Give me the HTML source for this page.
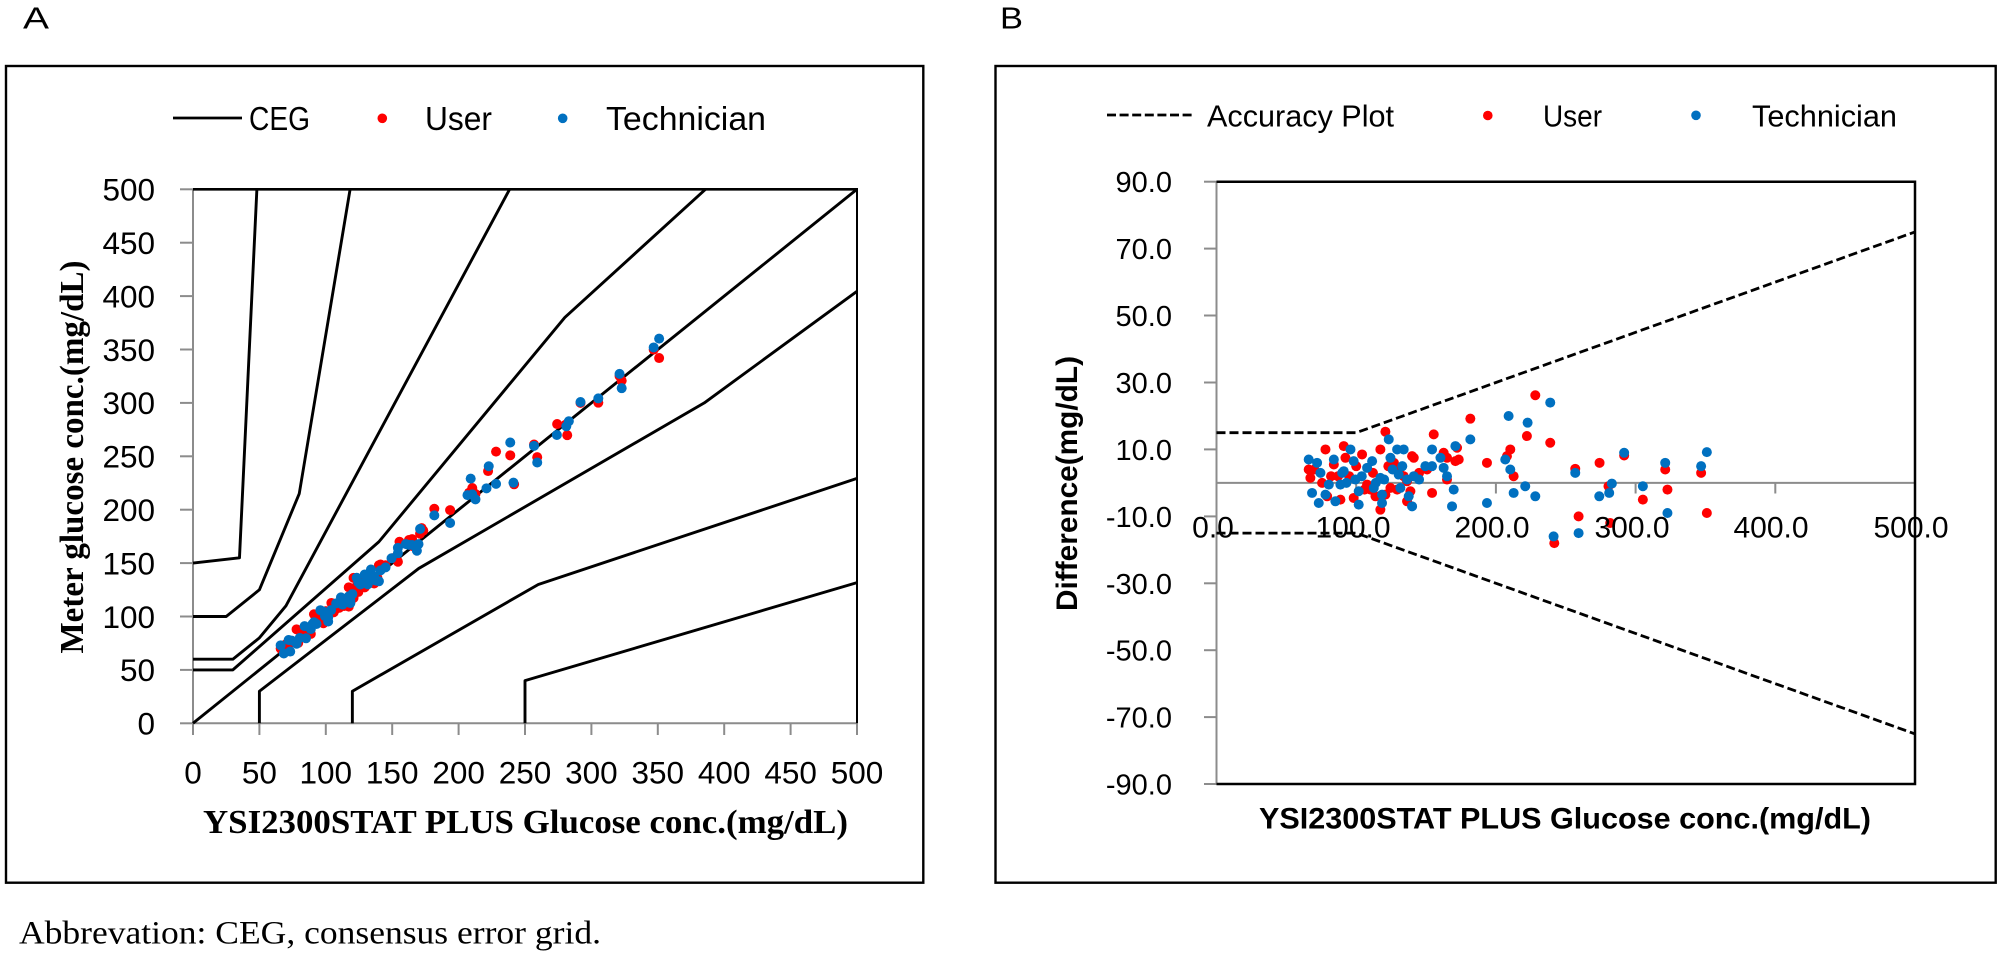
<!DOCTYPE html>
<html>
<head>
<meta charset="utf-8">
<style>
  html,body{margin:0;padding:0;background:#fff;}
  body{width:2004px;height:953px;overflow:hidden;}
  svg{display:block;}
  .s{font-family:"Liberation Sans",sans-serif;fill:#000;}
  .sb{font-family:"Liberation Sans",sans-serif;font-weight:bold;fill:#000;}
  .rb{font-family:"Liberation Serif",serif;font-weight:bold;fill:#000;}
  .r{font-family:"Liberation Serif",serif;fill:#000;}
  .ceg{fill:none;stroke:#000;stroke-width:2.9;stroke-linejoin:round;}
  .red{fill:#ff0000;}
  .blue{fill:#0070c0;}
</style>
</head>
<body>
<svg width="2004" height="953" viewBox="0 0 2004 953" xmlns="http://www.w3.org/2000/svg">
  <rect x="0" y="0" width="2004" height="953" fill="#fff"/>

  <!-- Panel labels -->
  <text class="s" x="23" y="28.5" font-size="31" textLength="26" lengthAdjust="spacingAndGlyphs">A</text>
  <text class="s" x="1000" y="28.5" font-size="31" textLength="23" lengthAdjust="spacingAndGlyphs">B</text>

  <!-- Outer boxes -->
  <rect x="6" y="66" width="917.3" height="816.7" fill="none" stroke="#000" stroke-width="2.4"/>
  <rect x="995.5" y="66" width="1000.2" height="816.7" fill="none" stroke="#000" stroke-width="2.4"/>

  <!-- ================= PANEL A ================= -->
  <line x1="173" y1="118" x2="242" y2="118" stroke="#000" stroke-width="2.8"/>
  <text class="s" x="249" y="130" font-size="33" textLength="61" lengthAdjust="spacingAndGlyphs">CEG</text>
  <circle cx="382.3" cy="118.3" r="4.8" class="red"/>
  <text class="s" x="425" y="130" font-size="33" textLength="67" lengthAdjust="spacingAndGlyphs">User</text>
  <circle cx="562.7" cy="118.3" r="4.8" class="blue"/>
  <text class="s" x="606" y="130" font-size="33" textLength="160" lengthAdjust="spacingAndGlyphs">Technician</text>

  <g stroke="#8c8c8c" stroke-width="2">
    <line x1="193" y1="189.3" x2="193" y2="723.3"/>
    <line x1="193" y1="723.3" x2="857" y2="723.3"/>
    <line x1="180" y1="723.3" x2="193" y2="723.3"/>
    <line x1="180" y1="669.9" x2="193" y2="669.9"/>
    <line x1="180" y1="616.5" x2="193" y2="616.5"/>
    <line x1="180" y1="563.1" x2="193" y2="563.1"/>
    <line x1="180" y1="509.7" x2="193" y2="509.7"/>
    <line x1="180" y1="456.3" x2="193" y2="456.3"/>
    <line x1="180" y1="402.9" x2="193" y2="402.9"/>
    <line x1="180" y1="349.5" x2="193" y2="349.5"/>
    <line x1="180" y1="296.1" x2="193" y2="296.1"/>
    <line x1="180" y1="242.7" x2="193" y2="242.7"/>
    <line x1="180" y1="189.3" x2="193" y2="189.3"/>
    <line x1="193" y1="723.3" x2="193" y2="735"/>
    <line x1="259.4" y1="723.3" x2="259.4" y2="735"/>
    <line x1="325.8" y1="723.3" x2="325.8" y2="735"/>
    <line x1="392.2" y1="723.3" x2="392.2" y2="735"/>
    <line x1="458.6" y1="723.3" x2="458.6" y2="735"/>
    <line x1="525" y1="723.3" x2="525" y2="735"/>
    <line x1="591.4" y1="723.3" x2="591.4" y2="735"/>
    <line x1="657.8" y1="723.3" x2="657.8" y2="735"/>
    <line x1="724.2" y1="723.3" x2="724.2" y2="735"/>
    <line x1="790.6" y1="723.3" x2="790.6" y2="735"/>
    <line x1="857" y1="723.3" x2="857" y2="735"/>
  </g>
  <line x1="193" y1="189.3" x2="858" y2="189.3" stroke="#000" stroke-width="2.6"/>
  <line x1="857" y1="189.3" x2="857" y2="723.3" stroke="#000" stroke-width="2"/>

  <g class="s" font-size="31.5" text-anchor="end">
    <text x="155" y="734.6">0</text>
    <text x="155" y="681.2">50</text>
    <text x="155" y="627.8">100</text>
    <text x="155" y="574.4">150</text>
    <text x="155" y="521">200</text>
    <text x="155" y="467.6">250</text>
    <text x="155" y="414.2">300</text>
    <text x="155" y="360.8">350</text>
    <text x="155" y="307.4">400</text>
    <text x="155" y="254">450</text>
    <text x="155" y="200.6">500</text>
  </g>
  <g class="s" font-size="31.5" text-anchor="middle">
    <text x="193" y="783.3">0</text>
    <text x="259.4" y="783.3">50</text>
    <text x="325.8" y="783.3">100</text>
    <text x="392.2" y="783.3">150</text>
    <text x="458.6" y="783.3">200</text>
    <text x="525" y="783.3">250</text>
    <text x="591.4" y="783.3">300</text>
    <text x="657.8" y="783.3">350</text>
    <text x="724.2" y="783.3">400</text>
    <text x="790.6" y="783.3">450</text>
    <text x="857" y="783.3">500</text>
  </g>

  <text class="rb" x="203" y="833" font-size="34" textLength="645" lengthAdjust="spacingAndGlyphs">YSI2300STAT PLUS Glucose conc.(mg/dL)</text>
  <text class="rb" transform="translate(83,457) rotate(-90)" x="0" y="0" font-size="34" text-anchor="middle" textLength="393" lengthAdjust="spacingAndGlyphs">Meter glucose conc.(mg/dL)</text>

  <g transform="matrix(1.328 0 0 -1.068 193 723.3)">
    <polyline class="ceg" vector-effect="non-scaling-stroke" points="0,0 500,500"/>
    <polyline class="ceg" vector-effect="non-scaling-stroke" points="0,50 30,50 140,170 280,380 385.9,500"/>
    <polyline class="ceg" vector-effect="non-scaling-stroke" points="50,0 50,30 170,145 385,300 500,404.5"/>
    <polyline class="ceg" vector-effect="non-scaling-stroke" points="0,60 30,60 50,80 70,110 238.4,500"/>
    <polyline class="ceg" vector-effect="non-scaling-stroke" points="120,0 120,30 260,130 500,229.3"/>
    <polyline class="ceg" vector-effect="non-scaling-stroke" points="0,100 25,100 50,125 80,215 118.3,500"/>
    <polyline class="ceg" vector-effect="non-scaling-stroke" points="250,0 250,40 500,131.7"/>
    <polyline class="ceg" vector-effect="non-scaling-stroke" points="0,150 35,155 48.1,500"/>
  </g>

  <g transform="matrix(1.328 0 0 -1.068 193 723.3)" class="red">
    <ellipse rx="3.77" ry="4.68" cx="66" cy="70"/>
    <ellipse rx="3.77" ry="4.68" cx="67.2" cy="68.7"/>
    <ellipse rx="3.77" ry="4.68" cx="78" cy="88"/>
    <ellipse rx="3.77" ry="4.68" cx="75.6" cy="75.6"/>
    <ellipse rx="3.77" ry="4.68" cx="84" cy="89.5"/>
    <ellipse rx="3.77" ry="4.68" cx="91.1" cy="102.1"/>
    <ellipse rx="3.77" ry="4.68" cx="92.3" cy="99.8"/>
    <ellipse rx="3.77" ry="4.68" cx="88.7" cy="83.7"/>
    <ellipse rx="3.77" ry="4.68" cx="98.2" cy="93.7"/>
    <ellipse rx="3.77" ry="4.68" cx="104.2" cy="112.7"/>
    <ellipse rx="3.77" ry="4.68" cx="107.8" cy="107.3"/>
    <ellipse rx="3.77" ry="4.68" cx="117.3" cy="127.3"/>
    <ellipse rx="3.77" ry="4.68" cx="120.9" cy="136.2"/>
    <ellipse rx="3.77" ry="4.68" cx="120.9" cy="117.4"/>
    <ellipse rx="3.77" ry="4.68" cx="117.3" cy="109.3"/>
    <ellipse rx="3.77" ry="4.68" cx="124.5" cy="123"/>
    <ellipse rx="3.77" ry="4.68" cx="131.6" cy="136.1"/>
    <ellipse rx="3.77" ry="4.68" cx="136.4" cy="136.9"/>
    <ellipse rx="3.77" ry="4.68" cx="141.2" cy="148.7"/>
    <ellipse rx="3.77" ry="4.68" cx="138.8" cy="136.3"/>
    <ellipse rx="3.77" ry="4.68" cx="136.4" cy="130.9"/>
    <ellipse rx="3.77" ry="4.68" cx="155.5" cy="170"/>
    <ellipse rx="3.77" ry="4.68" cx="154.3" cy="151.3"/>
    <ellipse rx="3.77" ry="4.68" cx="150.7" cy="154.7"/>
    <ellipse rx="3.77" ry="4.68" cx="165" cy="172.5"/>
    <ellipse rx="3.77" ry="4.68" cx="172.2" cy="182.7"/>
    <ellipse rx="3.77" ry="4.68" cx="171" cy="177.5"/>
    <ellipse rx="3.77" ry="4.68" cx="79.2" cy="75.2"/>
    <ellipse rx="3.77" ry="4.68" cx="113.8" cy="109.8"/>
    <ellipse rx="3.77" ry="4.68" cx="129.3" cy="127.3"/>
    <ellipse rx="3.77" ry="4.68" cx="134" cy="136"/>
    <ellipse rx="3.77" ry="4.68" cx="140" cy="148"/>
    <ellipse rx="3.77" ry="4.68" cx="162.6" cy="171.6"/>
    <ellipse rx="3.77" ry="4.68" cx="165" cy="166"/>
    <ellipse rx="3.77" ry="4.68" cx="173.4" cy="180.4"/>
    <ellipse rx="3.77" ry="4.68" cx="110.2" cy="108.2"/>
    <ellipse rx="3.77" ry="4.68" cx="95" cy="97"/>
    <ellipse rx="3.77" ry="4.68" cx="100" cy="105"/>
    <ellipse rx="3.77" ry="4.68" cx="87" cy="89"/>
    <ellipse rx="3.77" ry="4.68" cx="112" cy="115"/>
    <ellipse rx="3.77" ry="4.68" cx="127" cy="133"/>
    <ellipse rx="3.77" ry="4.68" cx="145" cy="148"/>
    <ellipse rx="3.77" ry="4.68" cx="70" cy="74"/>
    <ellipse rx="3.77" ry="4.68" cx="82" cy="84"/>
    <ellipse rx="3.77" ry="4.68" cx="106" cy="104"/>
    <ellipse rx="3.77" ry="4.68" cx="123" cy="128"/>
    <ellipse rx="3.77" ry="4.68" cx="181.7" cy="200.9"/>
    <ellipse rx="3.77" ry="4.68" cx="193.6" cy="199.6"/>
    <ellipse rx="3.77" ry="4.68" cx="207.9" cy="215.9"/>
    <ellipse rx="3.77" ry="4.68" cx="210.3" cy="220.3"/>
    <ellipse rx="3.77" ry="4.68" cx="212.7" cy="214.7"/>
    <ellipse rx="3.77" ry="4.68" cx="222.2" cy="236.2"/>
    <ellipse rx="3.77" ry="4.68" cx="228.2" cy="254.4"/>
    <ellipse rx="3.77" ry="4.68" cx="238.9" cy="250.9"/>
    <ellipse rx="3.77" ry="4.68" cx="256.8" cy="261"/>
    <ellipse rx="3.77" ry="4.68" cx="259.2" cy="249.2"/>
    <ellipse rx="3.77" ry="4.68" cx="241.8" cy="223.8"/>
    <ellipse rx="3.77" ry="4.68" cx="274.2" cy="280.2"/>
    <ellipse rx="3.77" ry="4.68" cx="291.8" cy="300"/>
    <ellipse rx="3.77" ry="4.68" cx="280.6" cy="279.6"/>
    <ellipse rx="3.77" ry="4.68" cx="305.2" cy="300.2"/>
    <ellipse rx="3.77" ry="4.68" cx="321.2" cy="325.2"/>
    <ellipse rx="3.77" ry="4.68" cx="322.8" cy="320.8"/>
    <ellipse rx="3.77" ry="4.68" cx="346.9" cy="349.9"/>
    <ellipse rx="3.77" ry="4.68" cx="351" cy="342"/>
    <ellipse rx="3.77" ry="4.68" cx="281.8" cy="269.8"/>
  </g>
  <g transform="matrix(1.328 0 0 -1.068 193 723.3)" class="blue">
    <ellipse rx="3.77" ry="4.68" cx="66" cy="73"/>
    <ellipse rx="3.77" ry="4.68" cx="74.4" cy="77.4"/>
    <ellipse rx="3.77" ry="4.68" cx="68.4" cy="65.4"/>
    <ellipse rx="3.77" ry="4.68" cx="73.2" cy="67.2"/>
    <ellipse rx="3.77" ry="4.68" cx="78" cy="74.5"/>
    <ellipse rx="3.77" ry="4.68" cx="85.1" cy="79.6"/>
    <ellipse rx="3.77" ry="4.68" cx="84" cy="91"/>
    <ellipse rx="3.77" ry="4.68" cx="80.4" cy="79.9"/>
    <ellipse rx="3.77" ry="4.68" cx="88.7" cy="88.2"/>
    <ellipse rx="3.77" ry="4.68" cx="91.1" cy="94.6"/>
    <ellipse rx="3.77" ry="4.68" cx="95.9" cy="105.9"/>
    <ellipse rx="3.77" ry="4.68" cx="98.2" cy="104.7"/>
    <ellipse rx="3.77" ry="4.68" cx="99.4" cy="100.4"/>
    <ellipse rx="3.77" ry="4.68" cx="101.8" cy="95.3"/>
    <ellipse rx="3.77" ry="4.68" cx="101.8" cy="99.3"/>
    <ellipse rx="3.77" ry="4.68" cx="107.8" cy="112.3"/>
    <ellipse rx="3.77" ry="4.68" cx="111.4" cy="117.9"/>
    <ellipse rx="3.77" ry="4.68" cx="112.6" cy="111.1"/>
    <ellipse rx="3.77" ry="4.68" cx="117.3" cy="118.8"/>
    <ellipse rx="3.77" ry="4.68" cx="118.5" cy="115"/>
    <ellipse rx="3.77" ry="4.68" cx="118.5" cy="112.5"/>
    <ellipse rx="3.77" ry="4.68" cx="123.3" cy="136.3"/>
    <ellipse rx="3.77" ry="4.68" cx="124.5" cy="132"/>
    <ellipse rx="3.77" ry="4.68" cx="129.3" cy="139.3"/>
    <ellipse rx="3.77" ry="4.68" cx="134" cy="144"/>
    <ellipse rx="3.77" ry="4.68" cx="130.4" cy="132.9"/>
    <ellipse rx="3.77" ry="4.68" cx="131.6" cy="130.1"/>
    <ellipse rx="3.77" ry="4.68" cx="136.4" cy="137.4"/>
    <ellipse rx="3.77" ry="4.68" cx="141.2" cy="143.2"/>
    <ellipse rx="3.77" ry="4.68" cx="137.6" cy="133.6"/>
    <ellipse rx="3.77" ry="4.68" cx="140" cy="133"/>
    <ellipse rx="3.77" ry="4.68" cx="149.5" cy="154.5"/>
    <ellipse rx="3.77" ry="4.68" cx="154.3" cy="164.3"/>
    <ellipse rx="3.77" ry="4.68" cx="154.3" cy="159.3"/>
    <ellipse rx="3.77" ry="4.68" cx="160.3" cy="167.8"/>
    <ellipse rx="3.77" ry="4.68" cx="162.6" cy="167.1"/>
    <ellipse rx="3.77" ry="4.68" cx="165" cy="167"/>
    <ellipse rx="3.77" ry="4.68" cx="169.8" cy="167.8"/>
    <ellipse rx="3.77" ry="4.68" cx="171" cy="182"/>
    <ellipse rx="3.77" ry="4.68" cx="168.6" cy="161.6"/>
    <ellipse rx="3.77" ry="4.68" cx="93" cy="93"/>
    <ellipse rx="3.77" ry="4.68" cx="104" cy="106"/>
    <ellipse rx="3.77" ry="4.68" cx="114" cy="114"/>
    <ellipse rx="3.77" ry="4.68" cx="126" cy="130"/>
    <ellipse rx="3.77" ry="4.68" cx="133" cy="138"/>
    <ellipse rx="3.77" ry="4.68" cx="145" cy="146"/>
    <ellipse rx="3.77" ry="4.68" cx="72" cy="78"/>
    <ellipse rx="3.77" ry="4.68" cx="90" cy="93"/>
    <ellipse rx="3.77" ry="4.68" cx="120" cy="121"/>
    <ellipse rx="3.77" ry="4.68" cx="181.7" cy="194.7"/>
    <ellipse rx="3.77" ry="4.68" cx="193.6" cy="187.6"/>
    <ellipse rx="3.77" ry="4.68" cx="206.7" cy="213.7"/>
    <ellipse rx="3.77" ry="4.68" cx="209.1" cy="229.1"/>
    <ellipse rx="3.77" ry="4.68" cx="210.3" cy="214.3"/>
    <ellipse rx="3.77" ry="4.68" cx="212.7" cy="209.7"/>
    <ellipse rx="3.77" ry="4.68" cx="221" cy="220"/>
    <ellipse rx="3.77" ry="4.68" cx="222.7" cy="240.7"/>
    <ellipse rx="3.77" ry="4.68" cx="228.2" cy="224.2"/>
    <ellipse rx="3.77" ry="4.68" cx="238.9" cy="262.9"/>
    <ellipse rx="3.77" ry="4.68" cx="241.3" cy="225.3"/>
    <ellipse rx="3.77" ry="4.68" cx="256.8" cy="259.8"/>
    <ellipse rx="3.77" ry="4.68" cx="259.2" cy="244.2"/>
    <ellipse rx="3.77" ry="4.68" cx="274" cy="270"/>
    <ellipse rx="3.77" ry="4.68" cx="281.1" cy="278.1"/>
    <ellipse rx="3.77" ry="4.68" cx="283" cy="282.8"/>
    <ellipse rx="3.77" ry="4.68" cx="291.8" cy="300.8"/>
    <ellipse rx="3.77" ry="4.68" cx="305.2" cy="304.2"/>
    <ellipse rx="3.77" ry="4.68" cx="321.2" cy="327.2"/>
    <ellipse rx="3.77" ry="4.68" cx="322.8" cy="313.8"/>
    <ellipse rx="3.77" ry="4.68" cx="346.9" cy="351.9"/>
    <ellipse rx="3.77" ry="4.68" cx="351" cy="360.2"/>
  </g>

  <!-- ================= PANEL B ================= -->
  <line x1="1107" y1="115" x2="1195" y2="115" stroke="#000" stroke-width="2.8" stroke-dasharray="9 3.6"/>
  <text class="s" x="1207" y="126.7" font-size="31" textLength="187" lengthAdjust="spacingAndGlyphs">Accuracy Plot</text>
  <circle cx="1487.8" cy="115.5" r="4.8" class="red"/>
  <text class="s" x="1543" y="126.7" font-size="31" textLength="59" lengthAdjust="spacingAndGlyphs">User</text>
  <circle cx="1696" cy="115.3" r="4.8" class="blue"/>
  <text class="s" x="1752" y="126.7" font-size="31" textLength="145" lengthAdjust="spacingAndGlyphs">Technician</text>

  <g stroke="#8c8c8c" stroke-width="2">
    <line x1="1216.5" y1="181.7" x2="1216.5" y2="784"/>
    <line x1="1216.5" y1="482.9" x2="1915" y2="482.9"/>
    <line x1="1204" y1="181.7" x2="1216.5" y2="181.7"/>
    <line x1="1204" y1="248.6" x2="1216.5" y2="248.6"/>
    <line x1="1204" y1="315.5" x2="1216.5" y2="315.5"/>
    <line x1="1204" y1="382.5" x2="1216.5" y2="382.5"/>
    <line x1="1204" y1="449.4" x2="1216.5" y2="449.4"/>
    <line x1="1204" y1="516.4" x2="1216.5" y2="516.4"/>
    <line x1="1204" y1="583.3" x2="1216.5" y2="583.3"/>
    <line x1="1204" y1="650.2" x2="1216.5" y2="650.2"/>
    <line x1="1204" y1="717.1" x2="1216.5" y2="717.1"/>
    <line x1="1204" y1="784" x2="1216.5" y2="784"/>
    <line x1="1216.5" y1="482.9" x2="1216.5" y2="493.5"/>
    <line x1="1356.2" y1="482.9" x2="1356.2" y2="493.5"/>
    <line x1="1495.9" y1="482.9" x2="1495.9" y2="493.5"/>
    <line x1="1635.6" y1="482.9" x2="1635.6" y2="493.5"/>
    <line x1="1775.3" y1="482.9" x2="1775.3" y2="493.5"/>
    <line x1="1915" y1="482.9" x2="1915" y2="493.5"/>
  </g>
  <polyline points="1216.5,181.7 1915,181.7 1915,784 1216.5,784" fill="none" stroke="#000" stroke-width="2.5"/>

  <g class="s" font-size="29" text-anchor="end">
    <text x="1172" y="192.2">90.0</text>
    <text x="1172" y="259.1">70.0</text>
    <text x="1172" y="326">50.0</text>
    <text x="1172" y="393">30.0</text>
    <text x="1172" y="459.9">10.0</text>
    <text x="1172" y="526.9">-10.0</text>
    <text x="1172" y="593.8">-30.0</text>
    <text x="1172" y="660.7">-50.0</text>
    <text x="1172" y="727.6">-70.0</text>
    <text x="1172" y="794.5">-90.0</text>
  </g>

  <polyline points="1216.5,432.7 1356.3,432.7 1915,231.9" fill="none" stroke="#000" stroke-width="2.8" stroke-dasharray="9 4"/>
  <polyline points="1216.5,533.1 1356.3,533.1 1915,733.9" fill="none" stroke="#000" stroke-width="2.8" stroke-dasharray="9 4"/>

  <g transform="matrix(1.397 0 0 -3.346 1216.5 482.9)" class="red">
    <ellipse rx="3.58" ry="1.494" cx="66" cy="4"/>
    <ellipse rx="3.58" ry="1.494" cx="67.2" cy="1.5"/>
    <ellipse rx="3.58" ry="1.494" cx="78" cy="10"/>
    <ellipse rx="3.58" ry="1.494" cx="75.6" cy="0"/>
    <ellipse rx="3.58" ry="1.494" cx="84" cy="5.5"/>
    <ellipse rx="3.58" ry="1.494" cx="91.1" cy="11"/>
    <ellipse rx="3.58" ry="1.494" cx="92.3" cy="7.5"/>
    <ellipse rx="3.58" ry="1.494" cx="88.7" cy="-5"/>
    <ellipse rx="3.58" ry="1.494" cx="98.2" cy="-4.5"/>
    <ellipse rx="3.58" ry="1.494" cx="104.2" cy="8.5"/>
    <ellipse rx="3.58" ry="1.494" cx="107.8" cy="-0.5"/>
    <ellipse rx="3.58" ry="1.494" cx="117.3" cy="10"/>
    <ellipse rx="3.58" ry="1.494" cx="120.9" cy="15.3"/>
    <ellipse rx="3.58" ry="1.494" cx="120.9" cy="-3.5"/>
    <ellipse rx="3.58" ry="1.494" cx="117.3" cy="-8"/>
    <ellipse rx="3.58" ry="1.494" cx="124.5" cy="-1.5"/>
    <ellipse rx="3.58" ry="1.494" cx="131.6" cy="4.5"/>
    <ellipse rx="3.58" ry="1.494" cx="136.4" cy="0.5"/>
    <ellipse rx="3.58" ry="1.494" cx="141.2" cy="7.5"/>
    <ellipse rx="3.58" ry="1.494" cx="138.8" cy="-2.5"/>
    <ellipse rx="3.58" ry="1.494" cx="136.4" cy="-5.5"/>
    <ellipse rx="3.58" ry="1.494" cx="155.5" cy="14.5"/>
    <ellipse rx="3.58" ry="1.494" cx="154.3" cy="-3"/>
    <ellipse rx="3.58" ry="1.494" cx="150.7" cy="4"/>
    <ellipse rx="3.58" ry="1.494" cx="165" cy="7.5"/>
    <ellipse rx="3.58" ry="1.494" cx="172.2" cy="10.5"/>
    <ellipse rx="3.58" ry="1.494" cx="171" cy="6.5"/>
    <ellipse rx="3.58" ry="1.494" cx="79.2" cy="-4"/>
    <ellipse rx="3.58" ry="1.494" cx="113.8" cy="-4"/>
    <ellipse rx="3.58" ry="1.494" cx="129.3" cy="-2"/>
    <ellipse rx="3.58" ry="1.494" cx="134" cy="2"/>
    <ellipse rx="3.58" ry="1.494" cx="140" cy="8"/>
    <ellipse rx="3.58" ry="1.494" cx="162.6" cy="9"/>
    <ellipse rx="3.58" ry="1.494" cx="165" cy="1"/>
    <ellipse rx="3.58" ry="1.494" cx="173.4" cy="7"/>
    <ellipse rx="3.58" ry="1.494" cx="110.2" cy="-2"/>
    <ellipse rx="3.58" ry="1.494" cx="95" cy="2"/>
    <ellipse rx="3.58" ry="1.494" cx="100" cy="5"/>
    <ellipse rx="3.58" ry="1.494" cx="87" cy="2"/>
    <ellipse rx="3.58" ry="1.494" cx="112" cy="3"/>
    <ellipse rx="3.58" ry="1.494" cx="127" cy="6"/>
    <ellipse rx="3.58" ry="1.494" cx="145" cy="3"/>
    <ellipse rx="3.58" ry="1.494" cx="70" cy="4"/>
    <ellipse rx="3.58" ry="1.494" cx="82" cy="2"/>
    <ellipse rx="3.58" ry="1.494" cx="106" cy="-2"/>
    <ellipse rx="3.58" ry="1.494" cx="123" cy="5"/>
    <ellipse rx="3.58" ry="1.494" cx="181.7" cy="19.2"/>
    <ellipse rx="3.58" ry="1.494" cx="193.6" cy="6"/>
    <ellipse rx="3.58" ry="1.494" cx="207.9" cy="8"/>
    <ellipse rx="3.58" ry="1.494" cx="210.3" cy="10"/>
    <ellipse rx="3.58" ry="1.494" cx="212.7" cy="2"/>
    <ellipse rx="3.58" ry="1.494" cx="222.2" cy="14"/>
    <ellipse rx="3.58" ry="1.494" cx="228.2" cy="26.2"/>
    <ellipse rx="3.58" ry="1.494" cx="238.9" cy="12"/>
    <ellipse rx="3.58" ry="1.494" cx="256.8" cy="4.2"/>
    <ellipse rx="3.58" ry="1.494" cx="259.2" cy="-10"/>
    <ellipse rx="3.58" ry="1.494" cx="241.8" cy="-18"/>
    <ellipse rx="3.58" ry="1.494" cx="274.2" cy="6"/>
    <ellipse rx="3.58" ry="1.494" cx="291.8" cy="8.2"/>
    <ellipse rx="3.58" ry="1.494" cx="280.6" cy="-1"/>
    <ellipse rx="3.58" ry="1.494" cx="305.2" cy="-5"/>
    <ellipse rx="3.58" ry="1.494" cx="321.2" cy="4"/>
    <ellipse rx="3.58" ry="1.494" cx="322.8" cy="-2"/>
    <ellipse rx="3.58" ry="1.494" cx="346.9" cy="3"/>
    <ellipse rx="3.58" ry="1.494" cx="351" cy="-9"/>
    <ellipse rx="3.58" ry="1.494" cx="281.8" cy="-12"/>
  </g>
  <g transform="matrix(1.397 0 0 -3.346 1216.5 482.9)" class="blue">
    <ellipse rx="3.58" ry="1.494" cx="66" cy="7"/>
    <ellipse rx="3.58" ry="1.494" cx="74.4" cy="3"/>
    <ellipse rx="3.58" ry="1.494" cx="68.4" cy="-3"/>
    <ellipse rx="3.58" ry="1.494" cx="73.2" cy="-6"/>
    <ellipse rx="3.58" ry="1.494" cx="78" cy="-3.5"/>
    <ellipse rx="3.58" ry="1.494" cx="85.1" cy="-5.5"/>
    <ellipse rx="3.58" ry="1.494" cx="84" cy="7"/>
    <ellipse rx="3.58" ry="1.494" cx="80.4" cy="-0.5"/>
    <ellipse rx="3.58" ry="1.494" cx="88.7" cy="-0.5"/>
    <ellipse rx="3.58" ry="1.494" cx="91.1" cy="3.5"/>
    <ellipse rx="3.58" ry="1.494" cx="95.9" cy="10"/>
    <ellipse rx="3.58" ry="1.494" cx="98.2" cy="6.5"/>
    <ellipse rx="3.58" ry="1.494" cx="99.4" cy="1"/>
    <ellipse rx="3.58" ry="1.494" cx="101.8" cy="-6.5"/>
    <ellipse rx="3.58" ry="1.494" cx="101.8" cy="-2.5"/>
    <ellipse rx="3.58" ry="1.494" cx="107.8" cy="4.5"/>
    <ellipse rx="3.58" ry="1.494" cx="111.4" cy="6.5"/>
    <ellipse rx="3.58" ry="1.494" cx="112.6" cy="-1.5"/>
    <ellipse rx="3.58" ry="1.494" cx="117.3" cy="1.5"/>
    <ellipse rx="3.58" ry="1.494" cx="118.5" cy="-3.5"/>
    <ellipse rx="3.58" ry="1.494" cx="118.5" cy="-6"/>
    <ellipse rx="3.58" ry="1.494" cx="123.3" cy="13"/>
    <ellipse rx="3.58" ry="1.494" cx="124.5" cy="7.5"/>
    <ellipse rx="3.58" ry="1.494" cx="129.3" cy="10"/>
    <ellipse rx="3.58" ry="1.494" cx="134" cy="10"/>
    <ellipse rx="3.58" ry="1.494" cx="130.4" cy="2.5"/>
    <ellipse rx="3.58" ry="1.494" cx="131.6" cy="-1.5"/>
    <ellipse rx="3.58" ry="1.494" cx="136.4" cy="1"/>
    <ellipse rx="3.58" ry="1.494" cx="141.2" cy="2"/>
    <ellipse rx="3.58" ry="1.494" cx="137.6" cy="-4"/>
    <ellipse rx="3.58" ry="1.494" cx="140" cy="-7"/>
    <ellipse rx="3.58" ry="1.494" cx="149.5" cy="5"/>
    <ellipse rx="3.58" ry="1.494" cx="154.3" cy="10"/>
    <ellipse rx="3.58" ry="1.494" cx="154.3" cy="5"/>
    <ellipse rx="3.58" ry="1.494" cx="160.3" cy="7.5"/>
    <ellipse rx="3.58" ry="1.494" cx="162.6" cy="4.5"/>
    <ellipse rx="3.58" ry="1.494" cx="165" cy="2"/>
    <ellipse rx="3.58" ry="1.494" cx="169.8" cy="-2"/>
    <ellipse rx="3.58" ry="1.494" cx="171" cy="11"/>
    <ellipse rx="3.58" ry="1.494" cx="168.6" cy="-7"/>
    <ellipse rx="3.58" ry="1.494" cx="93" cy="0"/>
    <ellipse rx="3.58" ry="1.494" cx="104" cy="2"/>
    <ellipse rx="3.58" ry="1.494" cx="114" cy="0"/>
    <ellipse rx="3.58" ry="1.494" cx="126" cy="4"/>
    <ellipse rx="3.58" ry="1.494" cx="133" cy="5"/>
    <ellipse rx="3.58" ry="1.494" cx="145" cy="1"/>
    <ellipse rx="3.58" ry="1.494" cx="72" cy="6"/>
    <ellipse rx="3.58" ry="1.494" cx="90" cy="3"/>
    <ellipse rx="3.58" ry="1.494" cx="120" cy="1"/>
    <ellipse rx="3.58" ry="1.494" cx="181.7" cy="13"/>
    <ellipse rx="3.58" ry="1.494" cx="193.6" cy="-6"/>
    <ellipse rx="3.58" ry="1.494" cx="206.7" cy="7"/>
    <ellipse rx="3.58" ry="1.494" cx="209.1" cy="20"/>
    <ellipse rx="3.58" ry="1.494" cx="210.3" cy="4"/>
    <ellipse rx="3.58" ry="1.494" cx="212.7" cy="-3"/>
    <ellipse rx="3.58" ry="1.494" cx="221" cy="-1"/>
    <ellipse rx="3.58" ry="1.494" cx="222.7" cy="18"/>
    <ellipse rx="3.58" ry="1.494" cx="228.2" cy="-4"/>
    <ellipse rx="3.58" ry="1.494" cx="238.9" cy="24"/>
    <ellipse rx="3.58" ry="1.494" cx="241.3" cy="-16"/>
    <ellipse rx="3.58" ry="1.494" cx="256.8" cy="3"/>
    <ellipse rx="3.58" ry="1.494" cx="259.2" cy="-15"/>
    <ellipse rx="3.58" ry="1.494" cx="274" cy="-4"/>
    <ellipse rx="3.58" ry="1.494" cx="281.1" cy="-3"/>
    <ellipse rx="3.58" ry="1.494" cx="283" cy="-0.2"/>
    <ellipse rx="3.58" ry="1.494" cx="291.8" cy="9"/>
    <ellipse rx="3.58" ry="1.494" cx="305.2" cy="-1"/>
    <ellipse rx="3.58" ry="1.494" cx="321.2" cy="6"/>
    <ellipse rx="3.58" ry="1.494" cx="322.8" cy="-9"/>
    <ellipse rx="3.58" ry="1.494" cx="346.9" cy="5"/>
    <ellipse rx="3.58" ry="1.494" cx="351" cy="9.2"/>
  </g>

  <g class="s" font-size="30" text-anchor="middle">
    <text x="1213" y="537.3">0.0</text>
    <text x="1353" y="537.3">100.0</text>
    <text x="1492" y="537.3">200.0</text>
    <text x="1632" y="537.3">300.0</text>
    <text x="1771" y="537.3">400.0</text>
    <text x="1911" y="537.3">500.0</text>
  </g>

  <text class="sb" x="1259" y="828.3" font-size="30" textLength="612" lengthAdjust="spacingAndGlyphs">YSI2300STAT PLUS Glucose conc.(mg/dL)</text>
  <text class="sb" transform="translate(1077,483.5) rotate(-90)" x="0" y="0" font-size="30" text-anchor="middle" textLength="255" lengthAdjust="spacingAndGlyphs">Difference(mg/dL)</text>

  <text class="r" x="19" y="943.3" font-size="32.5" textLength="582" lengthAdjust="spacingAndGlyphs">Abbrevation: CEG, consensus error grid.</text>
</svg>
</body>
</html>
